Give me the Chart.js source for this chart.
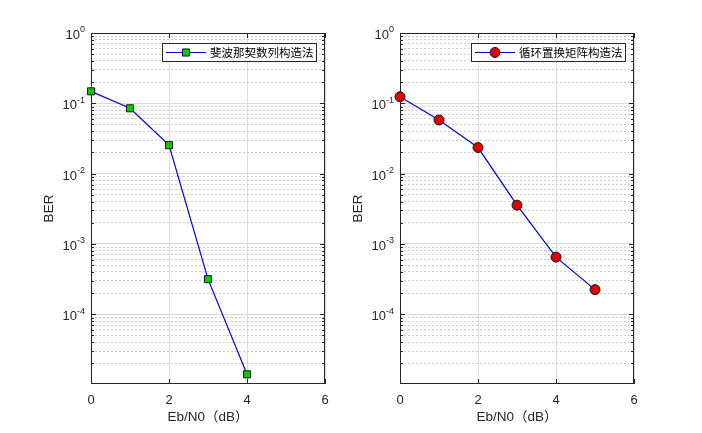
<!DOCTYPE html>
<html>
<head>
<meta charset="utf-8">
<script src="https://cdn.jsdelivr.net/npm/chart.js@4/dist/chart.umd.min.js"></script>
<style>
  html, body { margin: 0; padding: 0; background: #fff; }
  #wrap { position: relative; width: 702px; height: 433px; overflow: hidden; }
  canvas { position: absolute; top: 0; }
</style>
</head>
<body>
<div id="wrap">
  <canvas id="leftChart" width="351" height="433" style="left:0px"></canvas>
  <canvas id="rightChart" width="351" height="433" style="left:309px"></canvas>
</div>
<script>
// 資料
const ebn0Left = [0, 1, 2, 3, 4];
const berLeft = [0.148, 0.085, 0.0254, 3.16e-4, 1.4e-5];
const ebn0Right = [0, 1, 2, 3, 4, 5];
const berRight = [0.124, 0.058, 0.0235, 3.56e-3, 6.5e-4, 2.24e-4];
const legendLeft = '斐波那契数列构造法';
const legendRight = '循环置换矩阵构造法';
const xTicks = [0, 2, 4, 6];
const yTickExps = [0, -1, -2, -3, -4];

const Y_MIN = 1.02e-5;
const Y_MAX = 1;
const AXIS_COLOR = '#262626';
const LATIN = '"Liberation Sans", Arial, "Noto Sans CJK SC", sans-serif';

function isDecade(v) {
  const l = Math.log10(v);
  return Math.abs(l - Math.round(l)) < 1e-9;
}

// 框線、刻度、y 軸標籤 (畫在資料下面)
const matlabAxes = {
  id: 'matlabAxes',
  beforeDatasetsDraw(chart) {
    const { ctx, chartArea: a, scales: { x, y } } = chart;
    ctx.save();
    ctx.strokeStyle = AXIS_COLOR;
    ctx.lineWidth = 1;
    ctx.strokeRect(a.left + 0.5, a.top + 0.5, a.right - a.left - 1, a.bottom - a.top - 1);

    // 內向刻度
    ctx.beginPath();
    y.ticks.forEach(t => {
      const py = Math.round(y.getPixelForValue(t.value)) + 0.5;
      const len = isDecade(t.value) ? 5 : 3;
      ctx.moveTo(a.left, py); ctx.lineTo(a.left + len, py);
      ctx.moveTo(a.right, py); ctx.lineTo(a.right - len, py);
    });
    x.ticks.forEach(t => {
      const px = Math.round(x.getPixelForValue(t.value)) + 0.5;
      ctx.moveTo(px, a.bottom); ctx.lineTo(px, a.bottom - 5);
      ctx.moveTo(px, a.top); ctx.lineTo(px, a.top + 5);
    });
    ctx.stroke();

    // y 軸 10^n 標籤
    ctx.fillStyle = AXIS_COLOR;
    ctx.textBaseline = 'middle';
    ctx.textAlign = 'right';
    yTickExps.forEach(e => {
      const py = y.getPixelForValue(Math.pow(10, e));
      const exp = String(e);
      ctx.font = '9px ' + LATIN;
      const ew = ctx.measureText(exp).width;
      const right = a.left - 6;
      ctx.fillText(exp, right, py - 3);
      ctx.font = '13px ' + LATIN;
      ctx.fillText('10', right - ew, py + 2.5);
    });
    ctx.restore();
  },
  // 圖例
  afterDraw(chart) {
    const { ctx, chartArea: a } = chart;
    const ds = chart.data.datasets[0];
    const bw = 154, bh = 18;
    const bx = a.right - 9 - bw, by = a.top + 10;
    ctx.save();
    ctx.fillStyle = '#fff';
    ctx.fillRect(bx, by, bw, bh);
    ctx.strokeStyle = AXIS_COLOR;
    ctx.lineWidth = 1;
    ctx.strokeRect(bx + 0.5, by + 0.5, bw, bh);
    const my = by + bh / 2 + 0.5;
    ctx.strokeStyle = ds.borderColor;
    ctx.lineWidth = ds.borderWidth;
    ctx.beginPath();
    ctx.moveTo(bx + 4, my); ctx.lineTo(bx + 44, my);
    ctx.stroke();
    ctx.fillStyle = ds.pointBackgroundColor;
    ctx.strokeStyle = ds.pointBorderColor;
    ctx.lineWidth = ds.pointBorderWidth;
    Chart.helpers.drawPoint(ctx, { pointStyle: ds.pointStyle, radius: ds.pointRadius, borderWidth: ds.pointBorderWidth }, bx + 24, my);
    ctx.fillStyle = '#000';
    ctx.font = '11.5px "Noto Sans CJK SC", sans-serif';
    ctx.textAlign = 'left';
    ctx.textBaseline = 'middle';
    ctx.fillText(ds.label, bx + 48, my);
    ctx.restore();
  }
};

function createChart(canvasId, xs, ys, label, style, fill, radius) {
  return new Chart(document.getElementById(canvasId), {
    type: 'line',
    data: {
      datasets: [{
        label: label,
        data: xs.map((v, i) => ({ x: v, y: ys[i] })),
        borderColor: '#0000e0',
        borderWidth: 1.2,
        pointStyle: style,
        pointRadius: radius,
        pointBackgroundColor: fill,
        pointBorderColor: '#1a1a1a',
        pointBorderWidth: 1,
        tension: 0,
        clip: false
      }]
    },
    options: {
      responsive: false,
      devicePixelRatio: 1,
      animation: false,
      layout: { padding: { top: 33, right: 26, bottom: 0, left: 0 } },
      plugins: { legend: { display: false }, tooltip: { enabled: false } },
      scales: {
        x: {
          type: 'linear',
          min: 0, max: 6,
          afterBuildTicks: s => { s.ticks = xTicks.map(v => ({ value: v })); },
          afterFit: s => { s.height = 49; },
          grid: { color: '#dcdcdc', drawTicks: false },
          border: { display: false },
          ticks: { color: AXIS_COLOR, font: { size: 13, family: LATIN }, padding: 9, autoSkip: false },
          title: {
            display: true, text: 'Eb/N0（dB）', color: AXIS_COLOR,
            font: { size: 13.5, family: LATIN }, padding: { top: 0, bottom: 8 }
          }
        },
        y: {
          type: 'logarithmic',
          min: Y_MIN, max: Y_MAX,
          afterBuildTicks: s => {
            const ticks = [];
            for (let e = -5; e <= 0; e++) {
              for (let m = 1; m <= 9; m++) {
                const v = m * Math.pow(10, e);
                if (v >= Y_MIN && v <= Y_MAX * 1.0001) ticks.push({ value: v });
              }
            }
            s.ticks = ticks;
          },
          afterFit: s => { s.width = 91; },
          grid: {
            color: c => isDecade(c.tick.value) ? '#d9d9d9' : '#cfcfcf',
            drawTicks: false
          },
          border: {
            display: false,
            dash: c => (c.tick && !isDecade(c.tick.value)) ? [2, 2] : []
          },
          ticks: { display: false, autoSkip: false },
          title: {
            display: true, text: 'BER', color: AXIS_COLOR,
            font: { size: 13.5, family: LATIN }, padding: { top: 41, bottom: 0 }
          }
        }
      }
    },
    plugins: [matlabAxes]
  });
}

const leftChart = createChart('leftChart', ebn0Left, berLeft, legendLeft, 'rect', '#00cc00', 5);
const rightChart = createChart('rightChart', ebn0Right, berRight, legendRight, 'circle', '#dd0000', 5);
</script>
</body>
</html>
